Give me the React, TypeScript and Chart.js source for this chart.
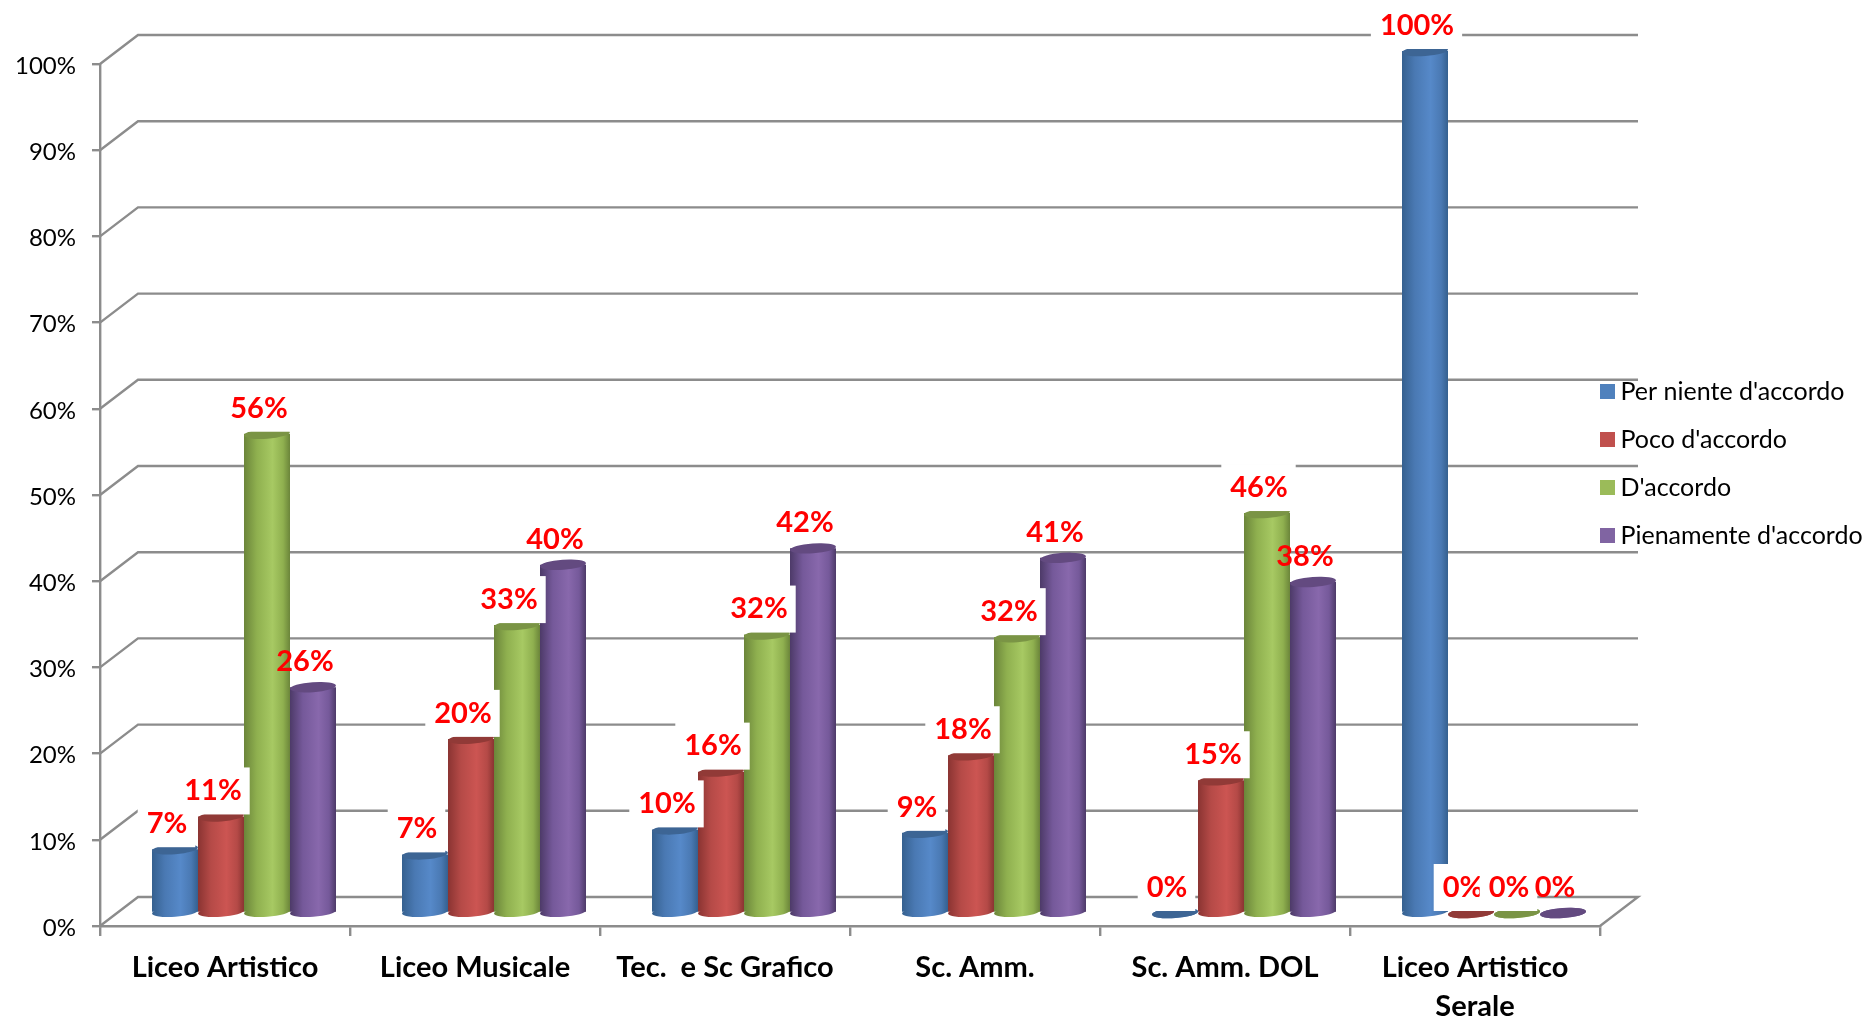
import { useEffect, useRef } from "react";
import { Chart, registerables } from "chart.js";

Chart.register(...registerables);

const categories = [
  "Liceo Artistico",
  "Liceo Musicale",
  "Tec.  e Sc Grafico",
  "Sc. Amm.",
  "Sc. Amm. DOL",
  ["Liceo Artistico", "Serale"],
];
const perNiente = [7.4, 6.8, 9.7, 9.3, 0, 100];
const poco = [11.2, 20.2, 16.4, 18.3, 15.4, 0];
const accordo = [55.6, 33.4, 32.3, 32, 46.4, 0];
const pienamente = [26.2, 40.4, 42.3, 41.2, 38.4, 0];
const seriesNames = ["Per niente d'accordo", "Poco d'accordo", "D'accordo", "Pienamente d'accordo"];
const seriesValues = [perNiente, poco, accordo, pienamente];

const legendColors = ["#4f81bd", "#c0504d", "#9bbb59", "#8064a2"];
const edgeColors = ["#35608f", "#8a3432", "#6b853a", "#4d3a68"];
const midColors = ["#4a79b3", "#b54a47", "#8fb04f", "#75599a"];
const lightColors = ["#5689c9", "#cc5552", "#a7c963", "#8868ac"];
const topColors = ["#3d6594", "#913a37", "#7a9445", "#634a80"];

const GRID = "#8c8c8c";
const FONT = "Lato, Carlito, sans-serif";
const DEPTH_X = 38;
const DEPTH_Y = 29;
const BAR_SHIFT_X = 19;
const BAR_SHIFT_Y = -13;
const CATEGORY_FILL = 0.736;

const cylinderPlugin = {
  id: "cylinder",
  afterLayout(chart: any) {
    const legend = chart.legend;
    legend.left = 1584;
    legend.top = 356;
    legend.right = 1867;
    legend.bottom = 1021;
    legend.width = 283;
    legend.height = 665;
  },
  beforeDatasetsDraw(chart: any) {
    const { ctx, scales } = chart;
    const { x, y } = scales;
    ctx.save();
    ctx.strokeStyle = GRID;
    ctx.lineWidth = 2.4;
    y.ticks.forEach((_: any, i: number) => {
      const py = y.getPixelForTick(i);
      ctx.beginPath();
      ctx.moveTo(x.left, py);
      ctx.lineTo(x.left + DEPTH_X, py - DEPTH_Y);
      ctx.lineTo(x.right + DEPTH_X, py - DEPTH_Y);
      if (i === 0) ctx.lineTo(x.right, py);
      ctx.stroke();
    });
    ctx.restore();
    ctx.save();
    ctx.translate(BAR_SHIFT_X, BAR_SHIFT_Y);
  },
  afterDatasetDraw(chart: any, args: any) {
    const { ctx } = chart;
    const meta = chart.getDatasetMeta(args.index);
    meta.data.forEach((el: any) => {
      const rx = el.width / 2;
      ctx.beginPath();
      ctx.ellipse(el.x, el.base, rx, 5, -0.07, 0, Math.PI * 2);
      ctx.fillStyle = el.options.backgroundColor;
      ctx.fill();
      ctx.beginPath();
      ctx.ellipse(el.x, el.y, rx, 5, -0.07, 0, Math.PI * 2);
      ctx.fillStyle = topColors[args.index];
      ctx.fill();
    });
  },
  afterDatasetsDraw(chart: any) {
    const { ctx } = chart;
    ctx.restore();
    ctx.save();
    ctx.font = `bold 29px ${FONT}`;
    ctx.textBaseline = "middle";
    ctx.textAlign = "left";
    seriesValues.forEach((values, s) => {
      const meta = chart.getDatasetMeta(s);
      values.forEach((v, i) => {
        const el = meta.data[i];
        const text = `${Math.round(v)}%`;
        const w = ctx.measureText(text).width;
        const cx = el.x + BAR_SHIFT_X - 8;
        const cy = el.y + BAR_SHIFT_Y - 25.5;
        if (s < 3) {
          ctx.fillStyle = "#ffffff";
          ctx.fillRect(cx - w / 2 - 9, cy - 23.5, w + 17, 47);
        }
        ctx.fillStyle = "#ff0000";
        ctx.fillText(text, cx - w / 2, cy);
      });
    });
    ctx.restore();
  },
};

function cylinderGradient(c: any, s: number) {
  if (c.dataIndex === undefined) return legendColors[s];
  const x = c.chart.scales.x;
  const slot = ((x.right - x.left) / categories.length) * CATEGORY_FILL;
  const w = slot / seriesNames.length;
  const center = x.getPixelForTick(c.dataIndex) + (s - 1.5) * w;
  const g = c.chart.ctx.createLinearGradient(center - w / 2, 0, center + w / 2, 0);
  g.addColorStop(0, edgeColors[s]);
  g.addColorStop(0.28, midColors[s]);
  g.addColorStop(0.62, lightColors[s]);
  g.addColorStop(0.85, midColors[s]);
  g.addColorStop(1, edgeColors[s]);
  return g;
}

export default function App() {
  const ref = useRef<HTMLCanvasElement>(null);
  useEffect(() => {
    document.body.style.margin = "0";
    document.body.style.background = "#ffffff";
    const chart = new Chart(ref.current as HTMLCanvasElement, {
      type: "bar",
      data: {
        labels: categories as any,
        datasets: seriesValues.map((data, s) => ({
          label: seriesNames[s],
          data,
          clip: false as any,
          borderWidth: 0,
          backgroundColor: (c: any) => cylinderGradient(c, s),
          categoryPercentage: CATEGORY_FILL,
          barPercentage: 1,
        })),
      },
      options: {
        animation: false,
        responsive: false,
        events: [],
        layout: { padding: { top: 64, right: 267, left: 0, bottom: 0 } },
        plugins: {
          tooltip: { enabled: false },
          legend: {
            position: "chartArea" as any,
            align: "start",
            labels: {
              boxWidth: 1,
              boxHeight: 1,
              padding: 23,
              color: "#000000",
              font: { family: FONT, size: 25 },
              generateLabels: () =>
                seriesNames.map((text, s) => ({
                  text,
                  fillStyle: legendColors[s],
                  strokeStyle: legendColors[s],
                  lineWidth: 14,
                  datasetIndex: s,
                  fontColor: "#000000",
                })),
            },
          },
        },
        scales: {
          x: {
            afterFit: (s: any) => {
              s.height = 95;
            },
            grid: { drawOnChartArea: false, color: GRID, lineWidth: 2.4, tickLength: 10 },
            border: { color: GRID, width: 2.4 },
            ticks: {
              color: "#000000",
              padding: 12,
              maxRotation: 0,
              autoSkip: false,
              font: { family: FONT, size: 29, weight: "bold", lineHeight: 1.35 },
            },
          },
          y: {
            min: 0,
            max: 100,
            afterFit: (s: any) => {
              s.width = 100;
            },
            grid: { drawOnChartArea: false, color: GRID, lineWidth: 2.4, tickLength: 8 },
            border: { color: GRID, width: 2.4 },
            ticks: {
              stepSize: 10,
              color: "#000000",
              padding: 16,
              labelOffset: 2,
              font: { family: FONT, size: 24 },
              callback: (v: any) => `${v}%`,
            },
          },
        },
      } as any,
      plugins: [cylinderPlugin as any],
    });
    return () => chart.destroy();
  }, []);
  return <canvas ref={ref} width={1867} height={1021} style={{ display: "block" }} />;
}
